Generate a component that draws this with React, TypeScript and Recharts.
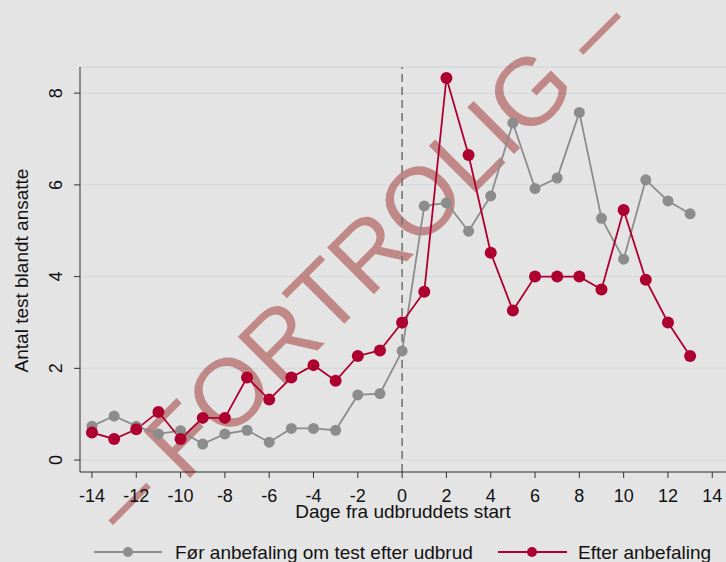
import React from 'react';
import {
  LineChart, Line, XAxis, YAxis, CartesianGrid, ReferenceLine, Legend, Customized,
} from 'recharts';

const days = [-14, -13, -12, -11, -10, -9, -8, -7, -6, -5, -4, -3, -2, -1, 0, 1, 2, 3, 4, 5, 6, 7, 8, 9, 10, 11, 12, 13];
const beforeValues = [0.74, 0.96, 0.74, 0.57, 0.64, 0.35, 0.57, 0.65, 0.39, 0.69, 0.69, 0.65, 1.42, 1.45, 2.38, 5.54, 5.61, 4.99, 5.76, 7.35, 5.92, 6.15, 7.58, 5.27, 4.38, 6.11, 5.65, 5.37];
const afterValues = [0.60, 0.46, 0.67, 1.05, 0.46, 0.92, 0.92, 1.80, 1.32, 1.80, 2.07, 1.73, 2.27, 2.39, 3.00, 3.67, 8.33, 6.65, 4.52, 3.26, 4.00, 4.00, 4.00, 3.72, 5.45, 3.93, 3.00, 2.27];
const xTicks = [-14, -12, -10, -8, -6, -4, -2, 0, 2, 4, 6, 8, 10, 12, 14];
const yTicks = [0, 2, 4, 6, 8];
const seriesNames = ['Før anbefaling om test efter udbrud', 'Efter anbefaling'];
const xTitle = 'Dage fra udbruddets start';
const yTitle = 'Antal test blandt ansatte';
const watermarkText = '– FORTROLIG –';

const data = days.map((d, i) => ({ day: d, before: beforeValues[i], after: afterValues[i] }));

const FONT = '"Liberation Sans", Arial, Helvetica, sans-serif';
const GRAY = '#8c8c8c';
const RED = '#ae0030';
const BG = '#e4e4e4';
const TEXT = '#111111';

const XTick = (props: any) => {
  const { x, y, payload } = props;
  return (
    <text x={x} y={y} dy={21.5} textAnchor="middle" fontFamily={FONT} fontSize={18} fill={TEXT}>
      {payload.value}
    </text>
  );
};

const YTick = (props: any) => {
  const { x, y, payload } = props;
  const bx = x - 10;
  return (
    <text x={bx} y={y} transform={`rotate(-90 ${bx} ${y})`} textAnchor="middle" fontFamily={FONT} fontSize={18} fill={TEXT}>
      {payload.value}
    </text>
  );
};

const XTitle = (props: any) => {
  const vb = props.viewBox || { x: 80, y: 472, width: 646, height: 70 };
  return (
    <text x={vb.x + vb.width / 2} y={vb.y + 46} textAnchor="middle" fontFamily={FONT} fontSize={19} fill={TEXT}>
      {xTitle}
    </text>
  );
};

const YTitle = (props: any) => {
  const vb = props.viewBox || { x: 0, y: 67, width: 80, height: 405 };
  const cx = 27.5;
  const cy = vb.y + vb.height / 2 + 1;
  return (
    <text x={cx} y={cy} transform={`rotate(-90 ${cx} ${cy})`} textAnchor="middle" fontFamily={FONT} fontSize={19} fill={TEXT}>
      {yTitle}
    </text>
  );
};

const LegendContent = () => (
  <svg width={726} height={20} style={{ display: 'block' }}>
    <line x1={94} y1={10} x2={162} y2={10} stroke={GRAY} strokeWidth={1.8} />
    <circle cx={128} cy={10} r={5} fill={GRAY} />
    <text x={175} y={16.5} fontFamily={FONT} fontSize={19} fill={TEXT}>{seriesNames[0]}</text>
    <line x1={498} y1={10} x2={567} y2={10} stroke={RED} strokeWidth={1.8} />
    <circle cx={532} cy={10} r={5} fill={RED} />
    <text x={578} y={16.5} fontFamily={FONT} fontSize={19} fill={TEXT}>{seriesNames[1]}</text>
  </svg>
);

const Watermark = () => {
  const cx = 382;
  const cy = 286;
  return (
    <text
      x={cx}
      y={cy}
      transform={`rotate(-45 ${cx} ${cy})`}
      textAnchor="middle"
      fontFamily={FONT}
      fontSize={96}
      fill="rgb(158,44,44)"
      fillOpacity={0.5}
    >
      {watermarkText}
    </text>
  );
};

export default function App() {
  return (
    <div style={{ position: 'absolute', left: 0, top: 0, width: 726, height: 562, background: BG, overflow: 'hidden' }}>
      <LineChart width={726} height={562} data={data} margin={{ top: 67, right: 0, bottom: 0, left: 0 }}>
        <CartesianGrid horizontal vertical={false} stroke="#d3dbdb" strokeWidth={1.3} />
        <XAxis
          dataKey="day"
          type="number"
          domain={[-14.54, 14.62]}
          ticks={xTicks}
          interval={0}
          height={70}
          tickSize={6}
          tickMargin={2}
          stroke="#333333"
          tickLine={{ stroke: '#333333' }}
          tick={<XTick />}
          label={<XTitle />}
        />
        <YAxis
          type="number"
          domain={[-0.26, 8.57]}
          ticks={yTicks}
          interval={0}
          width={80}
          tickSize={6}
          tickMargin={2}
          stroke="#333333"
          tickLine={{ stroke: '#333333' }}
          tick={<YTick />}
          label={<YTitle />}
        />
        <ReferenceLine x={0} stroke="#757575" strokeWidth={1.6} strokeDasharray="8 5" />
        <Line
          dataKey="before"
          name={seriesNames[0]}
          stroke={GRAY}
          strokeWidth={1.8}
          dot={{ r: 5.5, fill: GRAY, stroke: 'none' }}
          activeDot={false}
          isAnimationActive={false}
        />
        <Line
          dataKey="after"
          name={seriesNames[1]}
          stroke={RED}
          strokeWidth={1.8}
          dot={{ r: 6, fill: RED, stroke: 'none' }}
          activeDot={false}
          isAnimationActive={false}
        />
        <Legend
          verticalAlign="bottom"
          align="left"
          height={20}
          content={<LegendContent />}
          wrapperStyle={{ left: 0, bottom: 0, width: 726, height: 20, lineHeight: 0 }}
        />
        <Customized component={<Watermark />} />
      </LineChart>
    </div>
  );
}
